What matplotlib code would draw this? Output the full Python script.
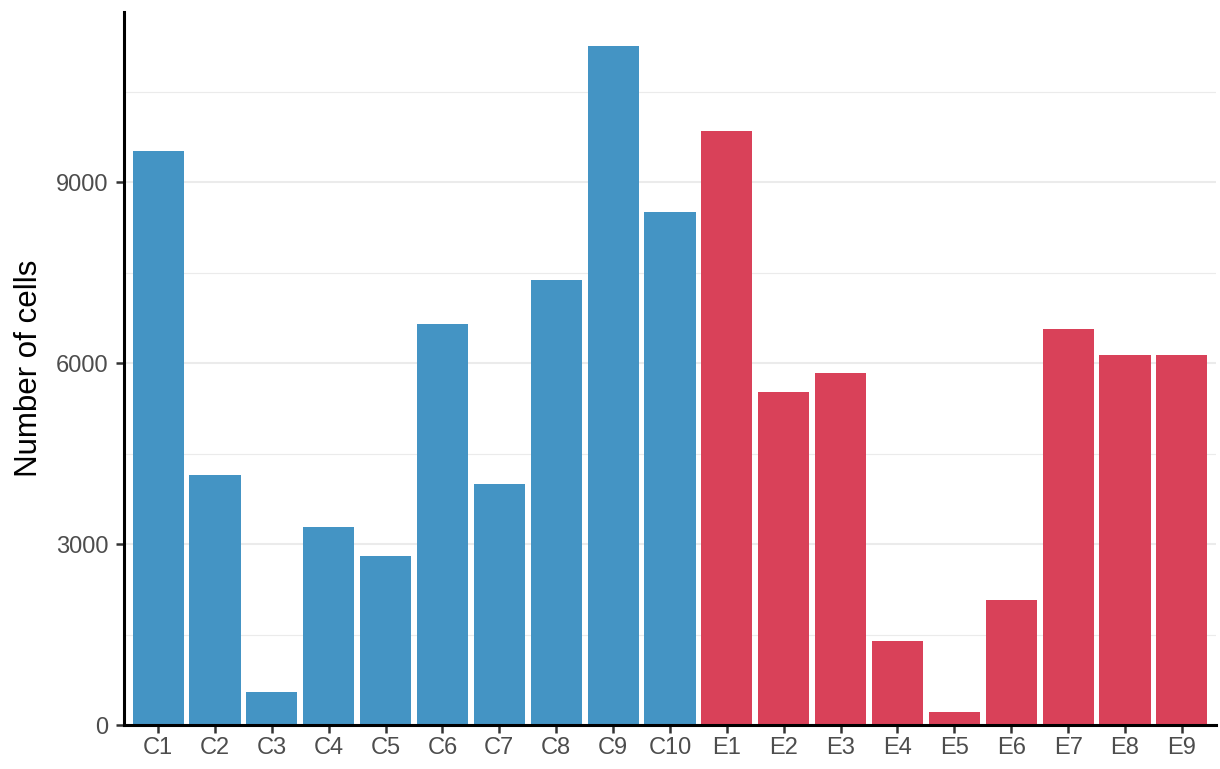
import matplotlib
matplotlib.use("Agg")
import matplotlib.pyplot as plt
import matplotlib.ticker as ticker
import numpy as np

# Данные: число клеток по кластерам
clusters = ["C1", "C2", "C3", "C4", "C5", "C6", "C7", "C8", "C9", "C10",
            "E1", "E2", "E3", "E4", "E5", "E6", "E7", "E8", "E9"]
cells = [9520, 4140, 546, 3278, 2798, 6656, 3990, 7384, 11258, 8510,
         9851, 5513, 5828, 1391, 215, 2070, 6573, 6142, 6142]
groups = ["C"] * 10 + ["E"] * 9

group_colors = {"C": "#4494C4", "E": "#D94159"}

plt.rcParams['font.family'] = ['Liberation Sans', 'DejaVu Sans']

fig = plt.figure(figsize=(12.2, 7.69), dpi=100)
ax = fig.add_axes([124 / 1220, 44 / 769, (1216 - 124) / 1220, (725 - 12) / 769])

x = np.arange(len(clusters))
ax.bar(x, cells, width=0.9, color=[group_colors[g] for g in groups], zorder=3)

# Оси как в ggplot
ax.set_xlim(-0.6, len(clusters) - 0.4)
ax.set_ylim(0, max(cells) * 1.05)
ax.set_xticks(x)
ax.set_xticklabels(clusters)
ax.yaxis.set_major_locator(ticker.MultipleLocator(3000))
ax.yaxis.set_minor_locator(ticker.MultipleLocator(1500))

ax.grid(True, axis='y', which='major', color='#ebebeb', linewidth=1.5, zorder=0)
ax.grid(True, axis='y', which='minor', color='#ebebeb', linewidth=0.8, zorder=0)

for side in ['top', 'right']:
    ax.spines[side].set_visible(False)
for side in ['left', 'bottom']:
    ax.spines[side].set_linewidth(2.2)
    ax.spines[side].set_color('black')
    ax.spines[side].set_zorder(4)

ax.tick_params(axis='both', which='major', length=6, width=1.8, color='#333333',
               labelcolor='#4d4d4d', labelsize=17)
ax.tick_params(axis='y', which='minor', length=0)
ax.tick_params(axis='y', pad=5)
ax.tick_params(axis='x', pad=3)

ax.set_ylabel("Number of cells", fontsize=22.5, color='black', labelpad=8.5)

plt.savefig("out.png", dpi=100)
plt.close()
